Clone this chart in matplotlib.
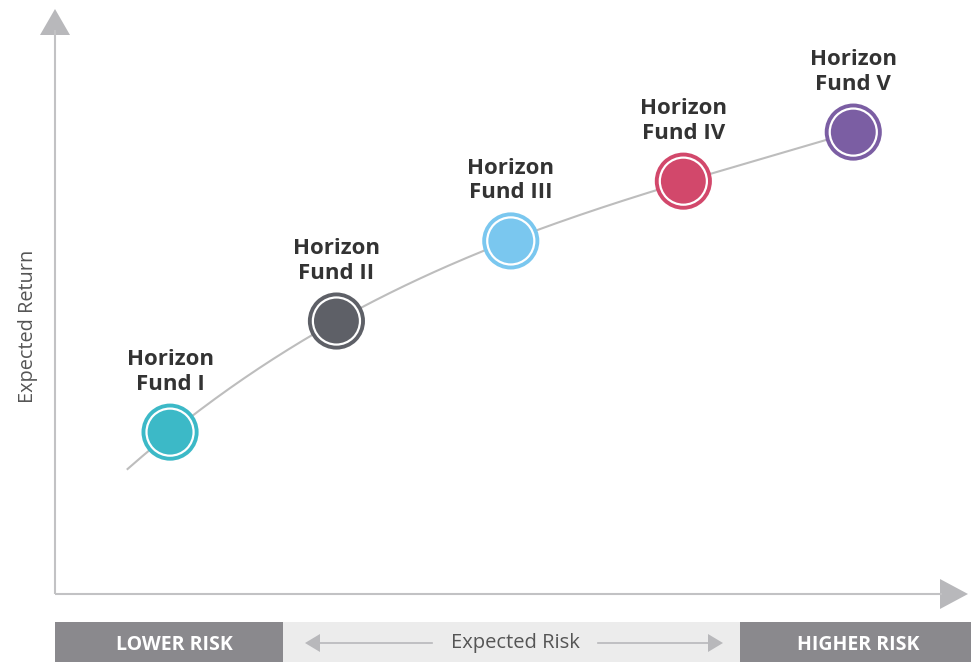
import numpy as np
import matplotlib.pyplot as plt
from matplotlib.patches import Polygon, Rectangle

plt.rcParams['font.family'] = ['Open Sans', 'DejaVu Sans']

# data (risk / return on an arbitrary 0-10 scale)
funds = ['Horizon\nFund I', 'Horizon\nFund II', 'Horizon\nFund III', 'Horizon\nFund IV', 'Horizon\nFund V']
risk = [1.30, 3.18, 5.15, 7.10, 9.02]
ret = [2.87, 4.84, 6.26, 7.32, 8.19]
colors = ['#3cb9c7', '#5e6067', '#7ac7ef', '#d2486b', '#7b5ea3']
curve_start = (0.82, 2.20)

W, H = 971, 662
fig = plt.figure(figsize=(W / 100, H / 100), dpi=100)

# background axes in pixel units for the decorations
bg = fig.add_axes([0, 0, 1, 1])
bg.set_xlim(0, W)
bg.set_ylim(H, 0)
bg.axis('off')

axis_grey = '#c2c2c4'
head_grey = '#b8b8bb'
# axes lines + arrow heads
bg.plot([55, 55], [594, 30], color=axis_grey, lw=1.5, solid_capstyle='butt')
bg.plot([55, 942], [594, 594], color=axis_grey, lw=1.5, solid_capstyle='butt')
bg.add_patch(Polygon([[40, 35], [70, 35], [55, 9]], closed=True, color=head_grey, lw=0))
bg.add_patch(Polygon([[940, 579], [940, 609], [968, 594]], closed=True, color=head_grey, lw=0))

bg.text(28, 326, 'Expected Return', rotation=90, ha='center', va='center',
        fontsize=14.3, color='#555555')

# bottom risk bar
dark = '#8a898d'
bg.add_patch(Rectangle((55, 622), 228, 40, color=dark, lw=0))
bg.add_patch(Rectangle((283, 622), 457, 40, color='#ececec', lw=0))
bg.add_patch(Rectangle((740, 622), 231, 40, color=dark, lw=0))
bg.text(174, 645, 'LOWER RISK', ha='center', va='center', fontsize=14,
        fontweight='bold', color='white')
bg.text(858, 645, 'HIGHER RISK', ha='center', va='center', fontsize=14,
        fontweight='bold', color='white')
bg.text(515, 643, 'Expected Risk', ha='center', va='center', fontsize=14.5,
        color='#555555')
bg.plot([318, 432], [643, 643], color=head_grey, lw=1.2)
bg.add_patch(Polygon([[305, 643], [320, 634], [320, 652]], closed=True, color=head_grey, lw=0))
bg.plot([598, 710], [643, 643], color=head_grey, lw=1.2)
bg.add_patch(Polygon([[723, 643], [708, 634], [708, 652]], closed=True, color=head_grey, lw=0))

# data axes
ax = fig.add_axes([55 / W, (H - 594) / H, 885 / W, 564 / H])
ax.set_xlim(0, 10)
ax.set_ylim(0, 10)
ax.axis('off')

cx = [curve_start[0]] + risk
cy = [curve_start[1]] + ret
coef = np.polyfit(cx, cy, 3)
xs = np.linspace(cx[0], risk[-1], 200)
ax.plot(xs, np.polyval(coef, xs), color='#bdbdbd', lw=1.5, zorder=1)

ax.scatter(risk, ret, s=1690, c=colors, linewidths=0, zorder=2)
ax.scatter(risk, ret, s=1150, c=colors, edgecolors='white', linewidths=1.6, zorder=3)

for x, y, name in zip(risk, ret, funds):
    ax.annotate(name, (x, y), xytext=(0, 27), textcoords='offset points',
                ha='center', va='bottom', fontsize=16, fontweight='bold',
                color='#333333', linespacing=1.22)

fig.savefig('out.png', dpi=100)
